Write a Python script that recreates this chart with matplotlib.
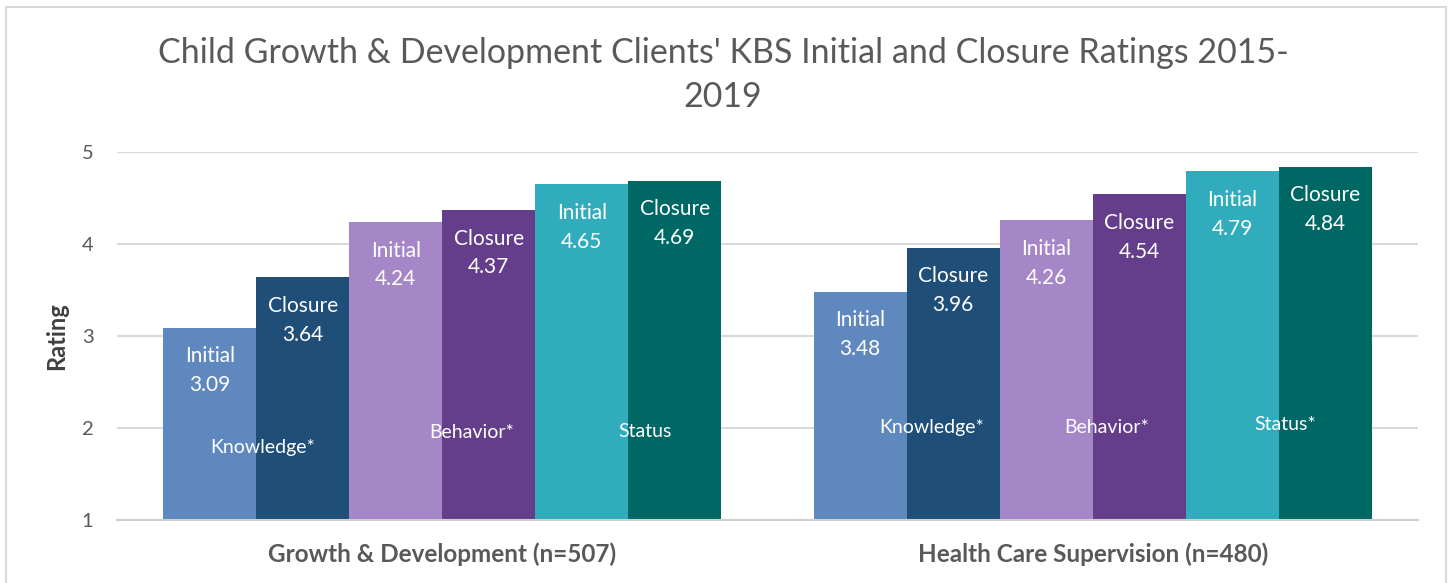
import numpy as np
import matplotlib
matplotlib.use("Agg")
from matplotlib import pyplot as plt
from matplotlib.patches import Rectangle

plt.rcParams['font.family'] = ['Lato', 'DejaVu Sans']

# Daten
groups = ['Growth & Development (n=507)', 'Health Care Supervision (n=480)']
series = ['Initial', 'Closure', 'Initial', 'Closure', 'Initial', 'Closure']
values_gd = [3.09, 3.64, 4.24, 4.37, 4.65, 4.69]
values_hcs = [3.48, 3.96, 4.26, 4.54, 4.79, 4.84]
domains_gd = ['Knowledge*', 'Behavior*', 'Status']
domains_hcs = ['Knowledge*', 'Behavior*', 'Status*']
colors = ['#5f88bf', '#1f4e78', '#a586c6', '#643e8b', '#31acbd', '#006864']

# Lage der Domänen-Beschriftungen (x-Versatz in Balkenbreiten, y in Rating)
dom_dx = [[0.075, 0.32, 0.18], [0.27, 0.15, 0.065]]
dom_y = [[1.79, 1.95, 1.96], [2.01, 2.01, 2.04]]

W, H = 1452, 583
fig = plt.figure(figsize=(W / 100, H / 100), dpi=100)
ax = fig.add_axes([117 / W, 1 - 520 / H, (1418 - 117) / W, (520 - 152) / H])

# Rahmen um das Diagramm
fig.patches.append(Rectangle((6 / W, -0.05), (1446 - 6) / W, 1 - 7 / H + 0.05,
                             transform=fig.transFigure, fill=False,
                             edgecolor='#d9d9d9', linewidth=1.5))

x = np.arange(len(groups))
bw = 0.858 / 6
all_vals = [values_gd, values_hcs]
all_doms = [domains_gd, domains_hcs]

for gi in range(len(groups)):
    for si in range(6):
        xpos = x[gi] + (si - 2.5) * bw
        v = all_vals[gi][si]
        ax.bar(xpos, v - 1, bottom=1, width=bw, color=colors[si], zorder=2)
        ax.annotate(f"{series[si]}\n{v:.2f}", (xpos, v), xytext=(0, -31),
                    textcoords='offset points', ha='center', va='center',
                    color='white', fontsize=15, linespacing=1.55, zorder=4)
    for di in range(3):
        xb = x[gi] + (2 * di + 1 - 2.5) * bw - bw / 2 + dom_dx[gi][di] * bw
        ax.text(xb, dom_y[gi][di], all_doms[gi][di], ha='center', va='center',
                color='white', fontsize=14, zorder=4)

ax.set_xlim(-0.5, 1.5)
ax.set_ylim(1, 5)
ax.set_yticks([1, 2, 3, 4, 5])
ax.set_xticks(x)
ax.set_xticklabels(groups, fontsize=17.5, fontweight='bold', color='#595959')
ax.tick_params(axis='x', length=0, pad=16)
ax.tick_params(axis='y', length=0, pad=17, labelsize=14.5, labelcolor='#595959')
ax.grid(axis='y', color='#d9d9d9', linewidth=1.5, zorder=0)
for s in ['top', 'right', 'left']:
    ax.spines[s].set_visible(False)
ax.spines['bottom'].set_color('#d0d0d0')
ax.spines['bottom'].set_linewidth(1.5)
ax.set_ylabel('Rating', fontsize=17, fontweight='bold', color='#404040', labelpad=10)

fig.text(0.5 - 3 / W, 1 - 75 / H,
         "Child Growth & Development Clients' KBS Initial and Closure Ratings 2015-\n2019",
         ha='center', va='center', fontsize=24.5, color='#595959', linespacing=1.45)

fig.savefig('out.png', dpi=100)
